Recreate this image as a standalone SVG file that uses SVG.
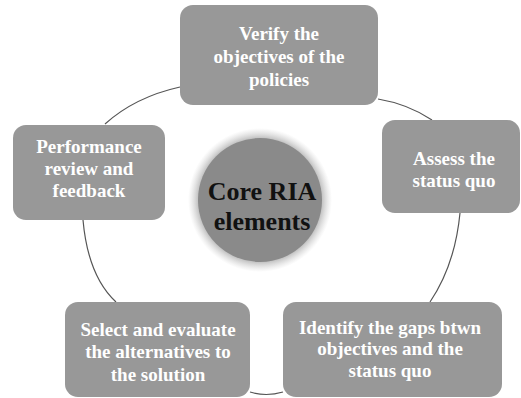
<svg xmlns="http://www.w3.org/2000/svg" width="521" height="398" viewBox="0 0 521 398">
<defs>
<radialGradient id="halo" cx="0.5" cy="0.5" r="0.5">
<stop offset="0.8" stop-color="#9a9a9a" stop-opacity="1"/>
<stop offset="1" stop-color="#c8c8c8" stop-opacity="0"/>
</radialGradient>
<style>
.box{fill:#989898;}
.lbl{font-family:"Liberation Serif","Times New Roman",serif;font-weight:bold;font-size:19px;fill:#ffffff;text-anchor:middle;}
.core{font-family:"Liberation Serif","Times New Roman",serif;font-weight:bold;font-size:26px;fill:#111111;text-anchor:middle;}
.conn{fill:none;stroke:#555555;stroke-width:1.2;}
</style>
</defs>
<rect width="521" height="398" fill="#ffffff"/>
<g id="connectors">
<path class="conn" d="M180,87 Q135,97 105,124"/>
<path class="conn" d="M83,220 Q88,276 116,302"/>
<path class="conn" d="M250,392 Q266,397 283,392"/>
<path class="conn" d="M430,302 Q455,265 460,213"/>
<path class="conn" d="M378,99 Q408,104 432,120"/>
</g>
<g id="core">
<circle cx="260" cy="200" r="72" fill="url(#halo)"/>
<circle cx="260" cy="200" r="62" fill="#8a8a8a"/>
<text class="core" x="262" y="200">Core RIA</text>
<text class="core" x="262" y="230">elements</text>
</g>
<g id="node-verify">
<rect class="box" x="180" y="5" width="198" height="100" rx="13"/>
<text class="lbl" x="279" y="40">Verify the</text>
<text class="lbl" x="279" y="63">objectives of the</text>
<text class="lbl" x="279" y="86">policies</text>
</g>
<g id="node-assess">
<rect class="box" x="382" y="120" width="138" height="93" rx="13"/>
<text class="lbl" x="454" y="165">Assess the</text>
<text class="lbl" x="454" y="187">status quo</text>
</g>
<g id="node-identify">
<rect class="box" x="283" y="302" width="219" height="95" rx="13"/>
<text class="lbl" x="390" y="334">Identify the gaps btwn</text>
<text class="lbl" x="390" y="355">objectives and the</text>
<text class="lbl" x="390" y="377">status quo</text>
</g>
<g id="node-select">
<rect class="box" x="65" y="302" width="185" height="95" rx="13"/>
<text class="lbl" x="158" y="336">Select and evaluate</text>
<text class="lbl" x="158" y="358">the alternatives to</text>
<text class="lbl" x="158" y="381">the solution</text>
</g>
<g id="node-performance">
<rect class="box" x="13" y="125" width="152" height="95" rx="13"/>
<text class="lbl" x="89" y="153">Performance</text>
<text class="lbl" x="89" y="175">review and</text>
<text class="lbl" x="89" y="197">feedback</text>
</g>
</svg>
